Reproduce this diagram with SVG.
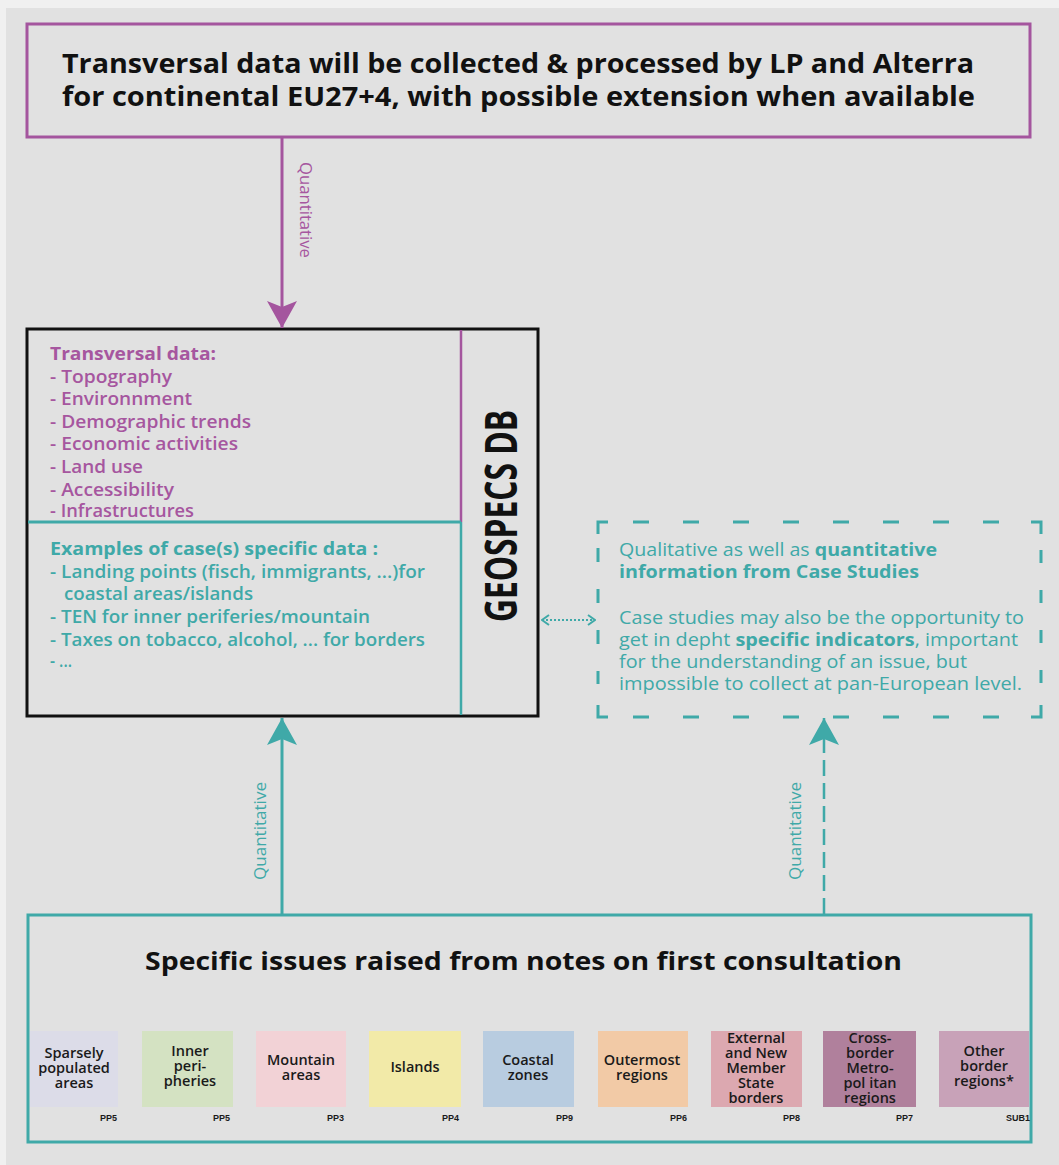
<svg xmlns="http://www.w3.org/2000/svg" width="1059" height="1165" viewBox="0 0 1059 1165">
<style>
  text{font-family:"Open Sans","Liberation Sans",Arial,sans-serif}
  .purple-stroke{stroke:#a4559e;fill:none}
  .teal-stroke{stroke:#3fa9a8;fill:none}
  .title{font-size:26px;font-weight:700;fill:#111}
  .ptext{font-size:18px;font-weight:600;fill:#a6569f}
  .ttext{font-size:18px;font-weight:600;fill:#3fa9a8}
  .ctext{font-size:17.5px;font-weight:400;fill:#3fa9a8}
  .b{font-weight:700}
  .lab{font-size:17px;font-weight:400}
  .cat{font-size:14.5px;font-weight:600;fill:#1a1a1a;text-anchor:middle}
  .code{font-family:"Liberation Sans",Arial,sans-serif;font-size:9px;font-weight:700;fill:#1a1a1a;text-anchor:end}
</style>
<defs>
  <marker id="arrow-purple" viewBox="-28 -16 29 32" markerWidth="29" markerHeight="32" refX="0" refY="0" markerUnits="userSpaceOnUse" orient="auto">
    <path d="M0,0 L-27,-15 L-21,0 L-27,15 Z" fill="#a4559e"/>
  </marker>
  <marker id="arrow-teal" viewBox="-28 -16 29 32" markerWidth="29" markerHeight="32" refX="0" refY="0" markerUnits="userSpaceOnUse" orient="auto">
    <path d="M0,0 L-27,-15 L-21,0 L-27,15 Z" fill="#3fa9a8"/>
  </marker>
  <marker id="chev-teal" viewBox="-9 -6 10 12" markerWidth="10" markerHeight="12" refX="0" refY="0" markerUnits="userSpaceOnUse" orient="auto-start-reverse">
    <path d="M-7,-5 L0,0 L-7,5" fill="none" stroke="#3fa9a8" stroke-width="2"/>
  </marker>
</defs>

<rect x="0" y="0" width="1059" height="1165" fill="#f0f0f0"/>
<rect x="6" y="8" width="1053" height="1157" fill="#e1e1e1"/>

<g id="top-box">
  <rect x="27" y="24" width="1003" height="113" class="purple-stroke" stroke-width="3"/>
  <text class="title" x="62" y="73" textLength="912" lengthAdjust="spacingAndGlyphs">Transversal data will be collected &amp; processed by LP and Alterra</text>
  <text class="title" x="62" y="106" textLength="913" lengthAdjust="spacingAndGlyphs">for continental EU27+4, with possible extension when available</text>
</g>

<g id="geospecs-db">
  <rect x="27" y="329" width="511" height="387" fill="none" stroke="#111" stroke-width="3"/>
  <line x1="461" y1="330" x2="461" y2="522" class="purple-stroke" stroke-width="2.5"/>
  <line x1="28" y1="522" x2="461" y2="522" class="teal-stroke" stroke-width="3"/>
  <line x1="461" y1="522" x2="461" y2="715" class="teal-stroke" stroke-width="2.5"/>
  <text class="ptext b" x="50" y="360" textLength="166" lengthAdjust="spacingAndGlyphs">Transversal data:</text>
  <text class="ptext" x="50" y="383" textLength="122" lengthAdjust="spacingAndGlyphs">- Topography</text>
  <text class="ptext" x="50" y="405" textLength="142" lengthAdjust="spacingAndGlyphs">- Environnment</text>
  <text class="ptext" x="50" y="428" textLength="201" lengthAdjust="spacingAndGlyphs">- Demographic trends</text>
  <text class="ptext" x="50" y="450" textLength="188" lengthAdjust="spacingAndGlyphs">- Economic activities</text>
  <text class="ptext" x="50" y="473" textLength="93" lengthAdjust="spacingAndGlyphs">- Land use</text>
  <text class="ptext" x="50" y="496" textLength="124" lengthAdjust="spacingAndGlyphs">- Accessibility</text>
  <text class="ptext" x="50" y="517" textLength="144" lengthAdjust="spacingAndGlyphs">- Infrastructures</text>
  <text class="ttext b" x="50" y="555" textLength="328" lengthAdjust="spacingAndGlyphs">Examples of case(s) specific data :</text>
  <text class="ttext" x="50" y="578" textLength="375" lengthAdjust="spacingAndGlyphs">- Landing points (fisch, immigrants, ...)for</text>
  <text class="ttext" x="64" y="600" textLength="189" lengthAdjust="spacingAndGlyphs">coastal areas/islands</text>
  <text class="ttext" x="50" y="623" textLength="320" lengthAdjust="spacingAndGlyphs">- TEN for inner periferies/mountain</text>
  <text class="ttext" x="50" y="646" textLength="375" lengthAdjust="spacingAndGlyphs">- Taxes on tobacco, alcohol, ... for borders</text>
  <text class="ttext" x="50" y="667" textLength="22" lengthAdjust="spacingAndGlyphs">- ...</text>
  <text transform="translate(517,622) rotate(-90)" x="0" y="0" font-size="44" font-weight="700" fill="#111" textLength="212" lengthAdjust="spacingAndGlyphs">GEOSPECS DB</text>
</g>

<g id="case-studies">
  <g class="teal-stroke" stroke-width="3">
    <path d="M598,534 V522 H608"/>
    <path d="M1031,522 H1041 V534"/>
    <path d="M598,705 V717 H608"/>
    <path d="M1031,717 H1041 V705"/>
    <line x1="633" y1="522" x2="1000" y2="522" stroke-dasharray="16 34"/>
    <line x1="633" y1="717" x2="1000" y2="717" stroke-dasharray="16 34"/>
    <line x1="598" y1="548" x2="598" y2="684" stroke-dasharray="14 27"/>
    <line x1="1041" y1="550" x2="1041" y2="684" stroke-dasharray="13 27"/>
  </g>
  <text class="ctext" x="619" y="556" textLength="318" lengthAdjust="spacingAndGlyphs">Qualitative as well as <tspan class="b">quantitative</tspan></text>
  <text class="ctext b" x="619" y="578" textLength="300" lengthAdjust="spacingAndGlyphs">information from Case Studies</text>
  <text class="ctext" x="619" y="624" textLength="405" lengthAdjust="spacingAndGlyphs">Case studies may also be the opportunity to</text>
  <text class="ctext" x="619" y="646" textLength="399" lengthAdjust="spacingAndGlyphs">get in depht <tspan class="b">specific indicators</tspan>, important</text>
  <text class="ctext" x="619" y="668" textLength="348" lengthAdjust="spacingAndGlyphs">for the understanding of an issue, but</text>
  <text class="ctext" x="619" y="690" textLength="403" lengthAdjust="spacingAndGlyphs">impossible to collect at pan-European level.</text>
</g>

<g id="specific-issues">
  <rect x="28" y="915" width="1003" height="227" class="teal-stroke" stroke-width="3"/>
  <text x="145" y="970" font-size="25" font-weight="700" fill="#111" textLength="757" lengthAdjust="spacingAndGlyphs">Specific issues raised from notes on first consultation</text>

  <g id="cat-sparsely">
    <rect x="30" y="1031" width="88" height="76" fill="#dcdce8"/>
    <text class="cat" x="74" y="1058">Sparsely</text>
    <text class="cat" x="74" y="1073">populated</text>
    <text class="cat" x="74" y="1088">areas</text>
    <text class="code" x="117" y="1121">PP5</text>
  </g>
  <g id="cat-inner">
    <rect x="142" y="1031" width="91" height="76" fill="#d4e2c2"/>
    <text class="cat" x="190" y="1056">Inner</text>
    <text class="cat" x="190" y="1071">peri-</text>
    <text class="cat" x="190" y="1086">pheries</text>
    <text class="code" x="230" y="1121">PP5</text>
  </g>
  <g id="cat-mountain">
    <rect x="256" y="1031" width="90" height="76" fill="#f2d2d6"/>
    <text class="cat" x="301" y="1065">Mountain</text>
    <text class="cat" x="301" y="1080">areas</text>
    <text class="code" x="344" y="1121">PP3</text>
  </g>
  <g id="cat-islands">
    <rect x="369" y="1031" width="92" height="76" fill="#f2eaa8"/>
    <text class="cat" x="415" y="1072">Islands</text>
    <text class="code" x="459" y="1121">PP4</text>
  </g>
  <g id="cat-coastal">
    <rect x="483" y="1031" width="91" height="76" fill="#b8cce0"/>
    <text class="cat" x="528" y="1065">Coastal</text>
    <text class="cat" x="528" y="1080">zones</text>
    <text class="code" x="573" y="1121">PP9</text>
  </g>
  <g id="cat-outermost">
    <rect x="598" y="1031" width="90" height="76" fill="#f2caa6"/>
    <text class="cat" x="642" y="1065">Outermost</text>
    <text class="cat" x="642" y="1080">regions</text>
    <text class="code" x="687" y="1121">PP6</text>
  </g>
  <g id="cat-external">
    <rect x="711" y="1031" width="91" height="76" fill="#dca8b0"/>
    <text class="cat" x="756" y="1043">External</text>
    <text class="cat" x="756" y="1058">and New</text>
    <text class="cat" x="756" y="1073">Member</text>
    <text class="cat" x="756" y="1088">State</text>
    <text class="cat" x="756" y="1103">borders</text>
    <text class="code" x="800" y="1121">PP8</text>
  </g>
  <g id="cat-crossborder">
    <rect x="823" y="1031" width="93" height="76" fill="#b0809c"/>
    <text class="cat" x="870" y="1043">Cross-</text>
    <text class="cat" x="870" y="1058">border</text>
    <text class="cat" x="870" y="1073">Metro-</text>
    <text class="cat" x="870" y="1088">pol itan</text>
    <text class="cat" x="870" y="1103">regions</text>
    <text class="code" x="913" y="1121">PP7</text>
  </g>
  <g id="cat-other">
    <rect x="939" y="1031" width="90" height="76" fill="#c8a2b8"/>
    <text class="cat" x="984" y="1056">Other</text>
    <text class="cat" x="984" y="1071">border</text>
    <text class="cat" x="984" y="1086">regions*</text>
    <text class="code" x="1030" y="1121">SUB1</text>
  </g>
</g>

<g id="connectors">
  <line x1="282" y1="138" x2="282" y2="328" class="purple-stroke" stroke-width="3" marker-end="url(#arrow-purple)"/>
  <text class="lab" transform="translate(300,162) rotate(90)" fill="#a6569f" textLength="96" lengthAdjust="spacingAndGlyphs">Quantitative</text>

  <line x1="282" y1="914" x2="282" y2="718" class="teal-stroke" stroke-width="3" marker-end="url(#arrow-teal)"/>
  <text class="lab" transform="translate(266,880) rotate(-90)" fill="#3fa9a8" textLength="98" lengthAdjust="spacingAndGlyphs">Quantitative</text>

  <line x1="824" y1="914" x2="824" y2="718" class="teal-stroke" stroke-width="2.5" stroke-dasharray="16 7" marker-end="url(#arrow-teal)"/>
  <text class="lab" transform="translate(801,880) rotate(-90)" fill="#3fa9a8" textLength="98" lengthAdjust="spacingAndGlyphs">Quantitative</text>

  <line x1="542" y1="620" x2="595" y2="620" class="teal-stroke" stroke-width="2" stroke-dasharray="2 2" marker-start="url(#chev-teal)" marker-end="url(#chev-teal)"/>
</g>
</svg>
